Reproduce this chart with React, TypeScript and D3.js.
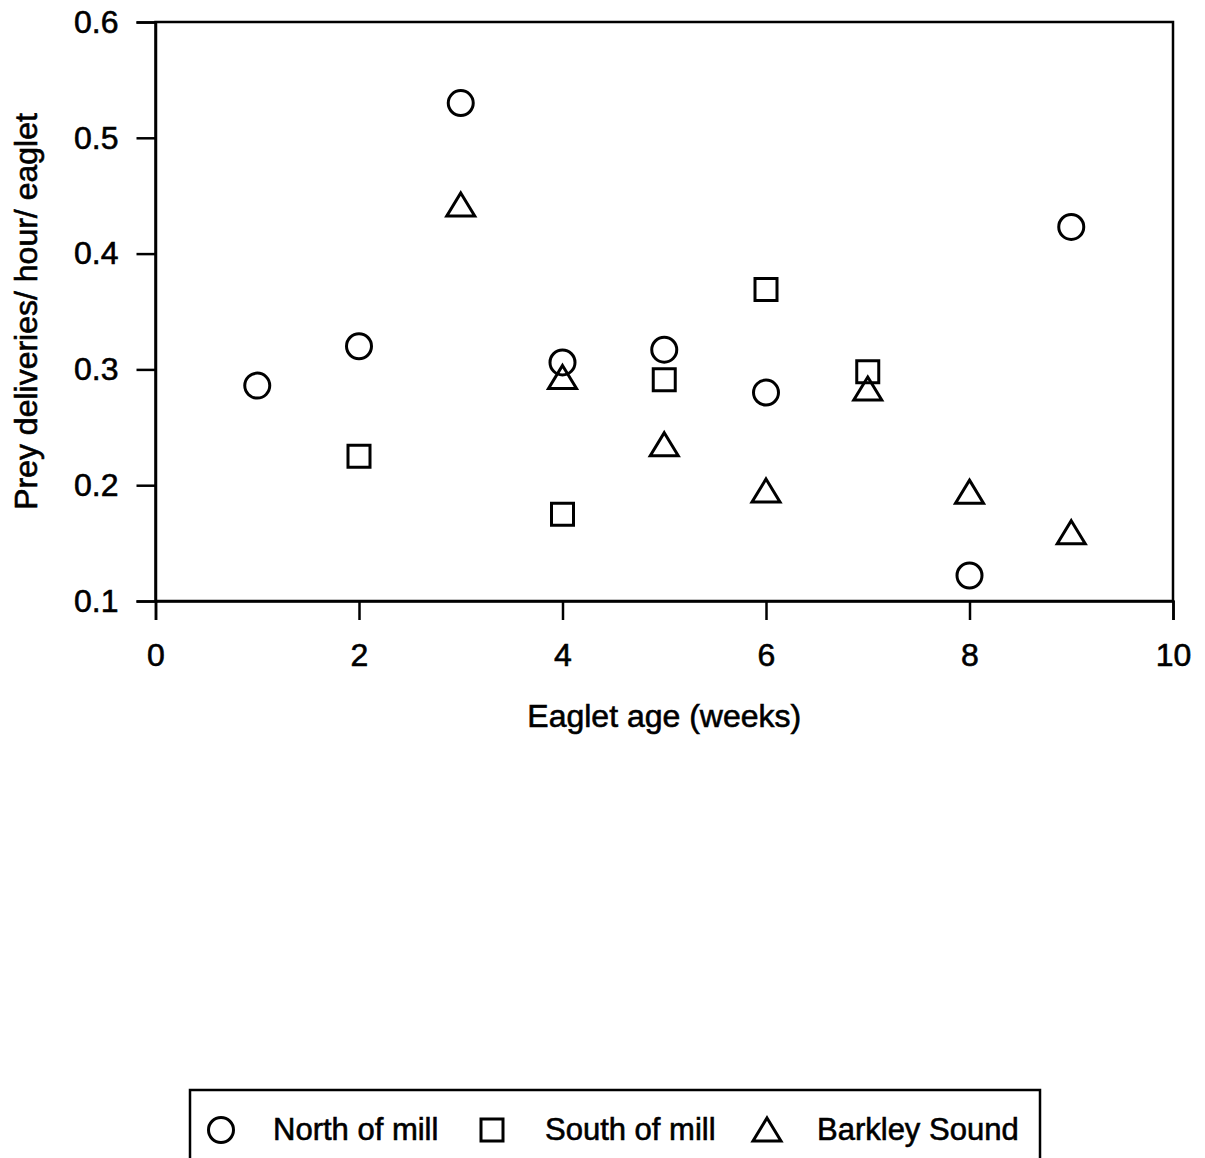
import { useEffect, useRef } from 'react';
import * as d3 from 'd3';

// Eaglet age (weeks) and prey deliveries per hour per eaglet, by site
const northAge = [1, 2, 3, 4, 5, 6, 8, 9];
const northRate = [0.286, 0.32, 0.53, 0.306, 0.317, 0.28, 0.122, 0.423];
const southAge = [2, 4, 5, 6, 7];
const southRate = [0.225, 0.175, 0.291, 0.369, 0.298];
const barkleyAge = [3, 4, 5, 6, 7, 8, 9];
const barkleyRate = [0.442, 0.293, 0.235, 0.195, 0.283, 0.194, 0.159];

const xTicks = [0, 2, 4, 6, 8, 10];
const yTicks = [0.1, 0.2, 0.3, 0.4, 0.5, 0.6];
const seriesNames = ['North of mill', 'South of mill', 'Barkley Sound'];

const FONT = '"Liberation Sans", Arial, sans-serif';

// text in the scan is a little heavy, so give it a thin outline
const styleText = (sel: any, size: number) =>
  sel
    .attr('font-size', size)
    .attr('font-family', FONT)
    .attr('fill', '#000')
    .attr('stroke', '#000')
    .attr('stroke-width', 0.6);

const App = () => {
  const svgRef = useRef<SVGSVGElement | null>(null);

  useEffect(() => {
    const svg = d3.select(svgRef.current);
    svg.selectAll('*').remove();

    const width = 1205;
    const height = 1158;
    const margin = { top: 22, right: 32, left: 155.5, bottom: 557 };
    const plotW = width - margin.left - margin.right;
    const plotH = height - margin.top - margin.bottom;

    const x = d3.scaleLinear().domain([0, 10]).range([0, plotW]);
    const y = d3.scaleLinear().domain([0.1, 0.6]).range([plotH, 0]);

    const g = svg.append('g').attr('transform', `translate(${margin.left},${margin.top})`);

    // frame (top and right edges)
    g.append('rect')
      .attr('x', 0)
      .attr('y', 0)
      .attr('width', plotW)
      .attr('height', plotH)
      .attr('fill', 'none')
      .attr('stroke', '#000')
      .attr('stroke-width', 2.5);

    // x axis
    const xAxis = g.append('g')
      .attr('transform', `translate(0,${plotH})`)
      .call(d3.axisBottom(x).tickValues(xTicks).tickSize(19).tickPadding(23).tickFormat(d3.format('d')));
    xAxis.select('.domain').attr('stroke-width', 2.5);
    xAxis.selectAll('.tick line').attr('stroke-width', 2.5);
    styleText(xAxis.selectAll('text'), 32);

    // y axis
    const yAxis = g.append('g')
      .call(d3.axisLeft(y).tickValues(yTicks).tickSize(19).tickPadding(18).tickFormat(d3.format('.1f')));
    yAxis.select('.domain').attr('stroke-width', 2.5);
    yAxis.selectAll('.tick line').attr('stroke-width', 2.5);
    styleText(yAxis.selectAll('text'), 32);

    // axis titles
    styleText(
      svg.append('text')
        .attr('x', margin.left + plotW / 2)
        .attr('y', 727)
        .attr('text-anchor', 'middle')
        .text('Eaglet age (weeks)'),
      32
    );

    styleText(
      svg.append('text')
        .attr('transform', `translate(37,${margin.top + plotH / 2}) rotate(-90)`)
        .attr('text-anchor', 'middle')
        .text('Prey deliveries/ hour/ eaglet'),
      32
    );

    // marker shapes
    const circlePath = d3.symbol().type(d3.symbolCircle).size(Math.PI * 12.5 * 12.5)();
    const squarePath = d3.symbol().type(d3.symbolSquare).size(22 * 22)();
    const triPath = 'M0,-12 L14,11 L-14,11 Z';
    const shapes = [circlePath, squarePath, triPath];

    const series = [
      { age: northAge, rate: northRate },
      { age: southAge, rate: southRate },
      { age: barkleyAge, rate: barkleyRate },
    ];

    series.forEach((s, i) => {
      g.selectAll(`.pt-${i}`)
        .data(s.age.map((a, j) => [a, s.rate[j]]))
        .enter()
        .append('path')
        .attr('class', `pt-${i}`)
        .attr('d', shapes[i])
        .attr('transform', d => `translate(${x(d[0])},${y(d[1])})`)
        .attr('fill', 'none')
        .attr('stroke', '#000')
        .attr('stroke-width', 3);
    });

    // legend
    const legend = svg.append('g');
    legend.append('rect')
      .attr('x', 190)
      .attr('y', 1090)
      .attr('width', 850)
      .attr('height', 90)
      .attr('fill', 'none')
      .attr('stroke', '#000')
      .attr('stroke-width', 2.5);

    const markerX = [221, 492, 767];
    const textX = [273, 545, 817];
    seriesNames.forEach((name, i) => {
      legend.append('path')
        .attr('d', shapes[i])
        .attr('transform', `translate(${markerX[i]},1130)`)
        .attr('fill', 'none')
        .attr('stroke', '#000')
        .attr('stroke-width', 3);
      styleText(
        legend.append('text')
          .attr('x', textX[i])
          .attr('y', 1140)
          .text(name),
        31
      );
    });
  }, []);

  return (
    <svg
      ref={svgRef}
      width={1205}
      height={1158}
      style={{ position: 'absolute', left: 0, top: 0, background: '#fff' }}
    ></svg>
  );
};

export default App;
